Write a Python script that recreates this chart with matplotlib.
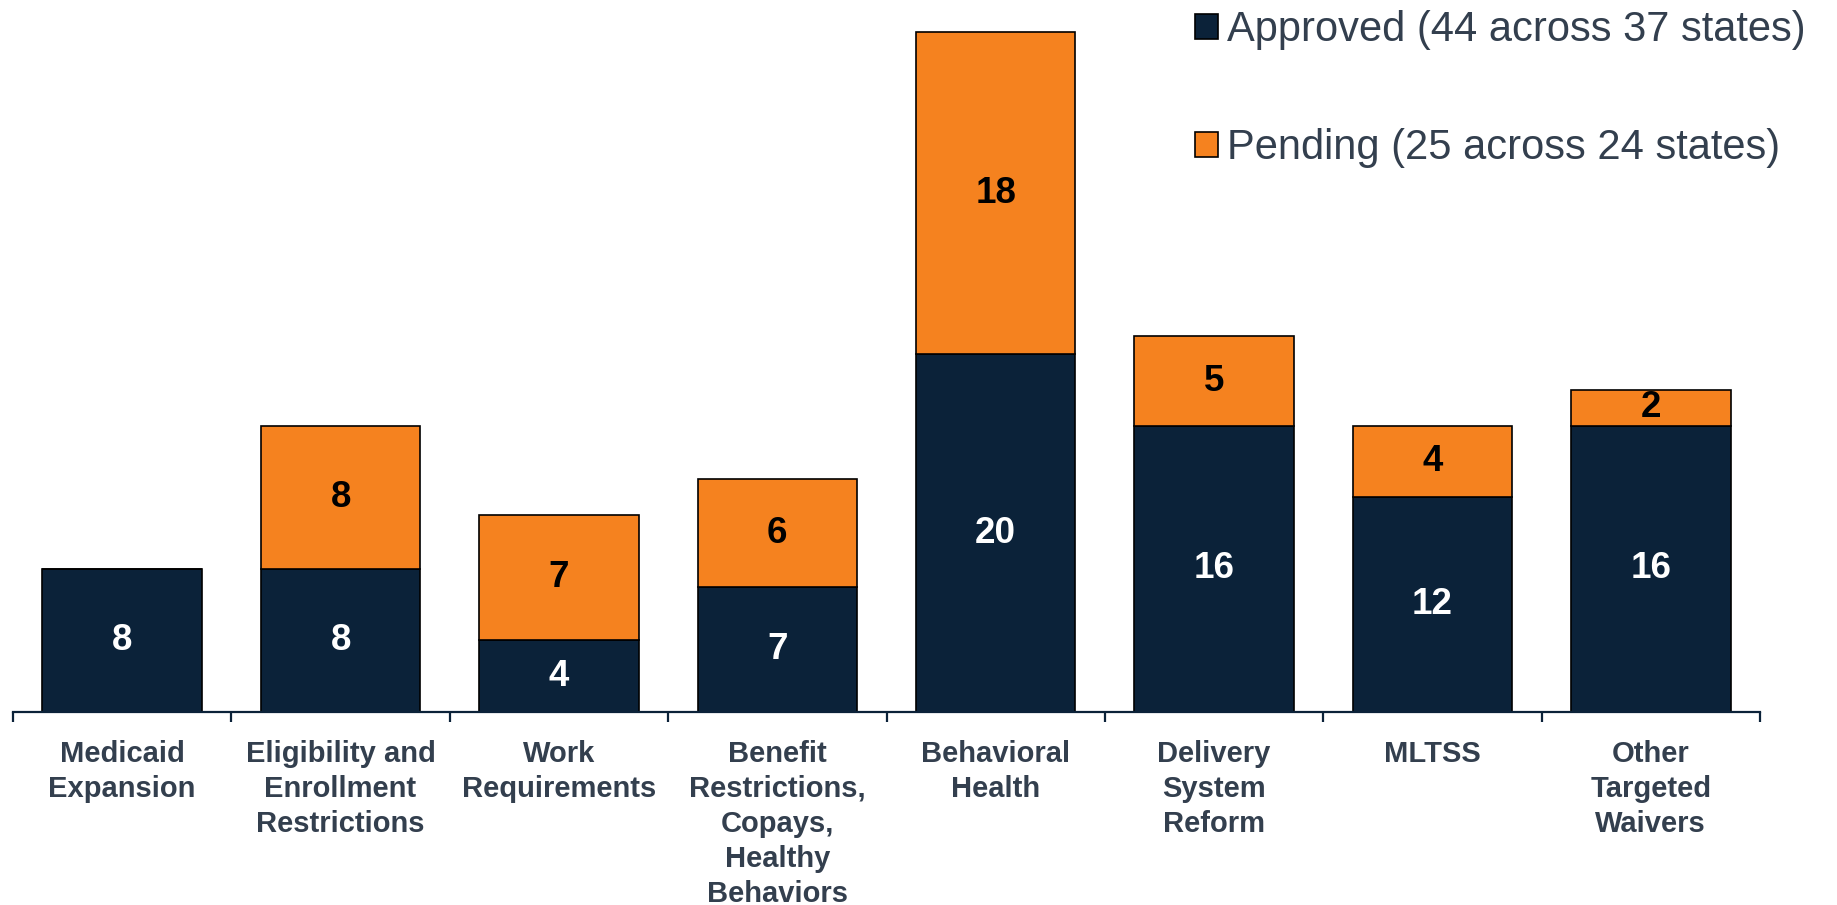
import matplotlib
matplotlib.use("Agg")
import matplotlib.pyplot as plt
from matplotlib.patches import Patch
import numpy as np

plt.rcParams["font.family"] = ["Liberation Sans", "DejaVu Sans"]

categories = [
    "Medicaid\nExpansion",
    "Eligibility and\nEnrollment\nRestrictions",
    "Work\nRequirements",
    "Benefit\nRestrictions,\nCopays,\nHealthy\nBehaviors",
    "Behavioral\nHealth",
    "Delivery\nSystem\nReform",
    "MLTSS",
    "Other\nTargeted\nWaivers",
]
approved = [8, 8, 4, 7, 20, 16, 12, 16]
pending = [0, 8, 7, 6, 18, 5, 4, 2]
legend_labels = ["Approved (44 across 37 states)", "Pending (25 across 24 states)"]

NAVY = "#0B2239"
ORANGE = "#F5821F"
TEXT = "#333F4E"

W, H = 1837, 905
fig = plt.figure(figsize=(W / 100, H / 100), dpi=100)
ax = fig.add_axes([13 / W, (H - 712) / H, 1747 / W, 712 / H])

x = np.arange(len(categories))
bw = 0.73
ax.bar(x, approved, width=bw, color=NAVY, edgecolor="black", linewidth=1.2, zorder=2)
ax.bar(x, pending, width=bw, bottom=approved, color=ORANGE, edgecolor="black",
       linewidth=1.2, zorder=2)

for i in range(len(categories)):
    a, p = approved[i], pending[i]
    if a > 0:
        ax.text(x[i], a / 2, f"{a}", ha="center", va="center", color="white",
                fontsize=26.5, fontweight="bold", zorder=3)
    if p > 0:
        ax.text(x[i], a + p / 2, f"{p}", ha="center", va="center", color="black",
                fontsize=26.5, fontweight="bold", zorder=3)

ax.set_xlim(-0.5, len(categories) - 0.5)
ax.set_ylim(0, 712 / 17.89)

for s in ["top", "right", "left"]:
    ax.spines[s].set_visible(False)
ax.spines["bottom"].set_color(NAVY)
ax.spines["bottom"].set_linewidth(1.6)
ax.set_yticks([])

ax.set_xticks(x)
ax.set_xticklabels(categories, fontsize=21, fontweight="bold", color=TEXT, linespacing=1.32,
                   va="top")
ax.tick_params(axis="x", which="major", length=0, pad=20)
ax.set_xticks(np.arange(-0.5, len(categories), 1.0), minor=True)
ax.tick_params(axis="x", which="minor", length=7, width=1.6, color=NAVY, direction="out")

handles = [Patch(facecolor=NAVY, edgecolor="black", linewidth=1.2),
           Patch(facecolor=ORANGE, edgecolor="black", linewidth=1.2)]
leg = fig.legend(handles, legend_labels, loc="upper right",
                 bbox_to_anchor=(1806 / W, 1 - 10 / H), frameon=False,
                 fontsize=30, handlelength=0.56, handleheight=0.56,
                 handletextpad=0.22, labelspacing=1.88, borderpad=0, borderaxespad=0)
for t in leg.get_texts():
    t.set_color(TEXT)

fig.savefig("out.png", dpi=100)
